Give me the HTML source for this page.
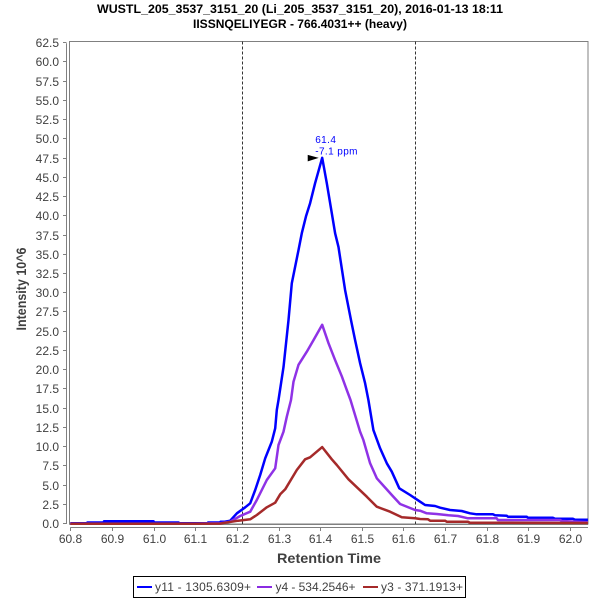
<!DOCTYPE html>
<html>
<head>
<meta charset="utf-8">
<title>Retention time chromatogram</title>
<style>
html,body{margin:0;padding:0;background:#fff;width:600px;height:600px;overflow:hidden}
svg{display:block}
text{font-family:"Liberation Sans",sans-serif}
</style>
</head>
<body>
<svg id="chart" xmlns="http://www.w3.org/2000/svg" width="600" height="600" viewBox="0 0 600 600">
  <rect x="0" y="0" width="600" height="600" fill="#fff"/>
  <text x="300" y="13" text-anchor="middle" font-size="12" font-weight="bold" fill="#000" textLength="406" lengthAdjust="spacingAndGlyphs">WUSTL_205_3537_3151_20 (Li_205_3537_3151_20), 2016-01-13 18:11</text>
  <text x="300" y="28" text-anchor="middle" font-size="12" font-weight="bold" fill="#000" textLength="214" lengthAdjust="spacingAndGlyphs">IISSNQELIYEGR - 766.4031++ (heavy)</text>
  <g id="plot"></g>
  <text x="329" y="563" text-anchor="middle" font-size="14" font-weight="bold" fill="#404040" textLength="104" lengthAdjust="spacingAndGlyphs">Retention Time</text>
  <text transform="translate(26,289) rotate(-90)" text-anchor="middle" font-size="14" font-weight="bold" fill="#404040" textLength="83" lengthAdjust="spacingAndGlyphs">Intensity 10^6</text>
  <g>
    <rect x="133.5" y="576.5" width="332" height="21" fill="#fff" stroke="#000" stroke-width="1"/>
    <line x1="137" y1="587" x2="152" y2="587" stroke="#0000ff" stroke-width="2"/>
    <text x="155" y="591" font-size="12" fill="#404040" textLength="96" lengthAdjust="spacing">y11 - 1305.6309+</text>
    <line x1="257" y1="587" x2="272" y2="587" stroke="#8a2be2" stroke-width="2"/>
    <text x="275.5" y="591" font-size="12" fill="#404040" textLength="80" lengthAdjust="spacing">y4 - 534.2546+</text>
    <line x1="363" y1="587" x2="378" y2="587" stroke="#a52a2a" stroke-width="2"/>
    <text x="381" y="591" font-size="12" fill="#404040" textLength="82" lengthAdjust="spacing">y3 - 371.1913+</text>
  </g>
</svg>
<script>
const xTickLabels = ["60.8","60.9","61.0","61.1","61.2","61.3","61.4","61.5","61.6","61.7","61.8","61.9","62.0"];
const yTickLabels = ["0.0","2.5","5.0","7.5","10.0","12.5","15.0","17.5","20.0","22.5","25.0","27.5","30.0","32.5","35.0","37.5","40.0","42.5","45.0","47.5","50.0","52.5","55.0","57.5","60.0","62.5"];
const boundaryTimes = [61.2136, 61.629];
const peakTime = [61.405];
const peakIntensity = [47.6];
const peakLabels = ["61.4", "-7.1 ppm"];

const y11Times = [60.8,60.84,60.841,60.88,60.881,61.0,61.001,61.06,61.061,61.13,61.131,61.16,61.161,61.171,61.184,61.2,61.22,61.232,61.244,61.256,61.268,61.276,61.284,61.292,61.296,61.3,61.312,61.324,61.332,61.348,61.356,61.366,61.376,61.388,61.405,61.416,61.428,61.436,61.444,61.46,61.474,61.484,61.496,61.508,61.516,61.528,61.544,61.56,61.572,61.59,61.616,61.64,61.652,61.676,61.688,61.712,61.74,61.76,61.776,61.815,61.82,61.848,61.851,61.896,61.899,61.959,61.964,62.007,62.012,62.043];
const y11Values = [0.1,0.1,0.2,0.2,0.35,0.35,0.2,0.2,0.1,0.1,0.2,0.2,0.3,0.3,0.43,1.39,2.17,2.69,4.42,6.37,8.54,9.62,10.7,12.44,14.82,16.12,20.4,26.5,31.3,35.6,37.8,40.0,41.7,44.3,47.6,44.3,40.4,37.8,36.0,30.4,26.5,23.9,20.9,18.3,16.12,12.2,9.84,7.89,6.8,4.64,3.77,2.9,2.47,2.34,2.12,1.82,1.69,1.39,1.26,1.26,1.13,1.08,0.95,0.95,0.82,0.82,0.69,0.69,0.56,0.56];

const y4Times = [60.8,61.1,61.16,61.184,61.208,61.232,61.248,61.272,61.292,61.3,61.312,61.32,61.33,61.336,61.348,61.368,61.384,61.405,61.42,61.436,61.452,61.464,61.473,61.496,61.504,61.52,61.536,61.572,61.592,61.628,61.64,61.656,61.68,61.708,61.731,61.755,61.824,61.827,61.976,61.98,62.043];
const y4Values = [0.05,0.05,0.1,0.3,1.04,1.6,3.12,5.72,7.24,10.27,12.0,13.95,16.12,18.5,20.7,22.4,23.9,25.9,23.5,21.3,19.2,17.4,16.12,12.0,10.9,7.89,5.94,3.77,2.6,1.82,1.73,1.39,1.3,1.13,1.04,0.74,0.74,0.52,0.52,0.39,0.22];

const y3Times = [60.8,61.1,61.16,61.171,61.203,61.232,61.248,61.272,61.292,61.304,61.316,61.344,61.364,61.376,61.405,61.428,61.44,61.468,61.512,61.536,61.568,61.596,61.628,61.64,61.659,61.664,61.7,61.704,61.755,61.76,62.043];
const y3Values = [0.02,0.02,0.05,0.15,0.43,0.61,1.17,2.17,2.77,3.86,4.51,7.02,8.41,8.67,10.0,8.41,7.67,5.81,3.55,2.25,1.6,0.87,0.74,0.65,0.61,0.43,0.43,0.3,0.3,0.17,0.13];

const NS = "http://www.w3.org/2000/svg";
const plot = document.getElementById("plot");
const PLOT_L = 69.5, PLOT_R = 588, PLOT_T = 41.5, PLOT_B = 524;
function xScale(t){ return 70.3 + (t - 60.8) * 416.4; }
function yScale(v){ return 524 - v * 7.693; }
function mk(tag, attrs){
  const el = document.createElementNS(NS, tag);
  for (const k in attrs) el.setAttribute(k, attrs[k]);
  plot.appendChild(el);
  return el;
}

const frame = mk("rect", {x:PLOT_L, y:PLOT_T, width:PLOT_R-PLOT_L, height:PLOT_B-PLOT_T, fill:"#fff", stroke:"#808080", "stroke-width":1});



const yAxisLine = mk("line", {x1:66.5, y1:yScale(62.5), x2:66.5, y2:PLOT_B, stroke:"#808080", "stroke-width":1});



const xAxisLine = mk("line", {x1:xScale(60.8), y1:527.5, x2:PLOT_R, y2:527.5, stroke:"#808080", "stroke-width":1});



const baseline = mk("line", {x1:PLOT_L, y1:PLOT_B+0.5, x2:PLOT_R, y2:PLOT_B+0.5, stroke:"#808080", "stroke-width":1});



yTickLabels.forEach(function(lbl){
  const py = Math.round(yScale(parseFloat(lbl))) - 0.5;
  const tick = mk("line", {x1:63, y1:py, x2:66.5, y2:py, stroke:"#808080", "stroke-width":1});
  
  
  const t = mk("text", {x:59, y:py+4.5, "text-anchor":"end", "font-size":12, fill:"#404040"});
  
  
  t.textContent = lbl;
});

xTickLabels.forEach(function(lbl){
  const px = Math.round(xScale(parseFloat(lbl))) + 0.5;
  const tick = mk("line", {x1:px, y1:527.5, x2:px, y2:531, stroke:"#808080", "stroke-width":1});
  
  
  const t = mk("text", {x:px, y:543, "text-anchor":"middle", "font-size":12, fill:"#404040"});
  
  
  t.textContent = lbl;
});

boundaryTimes.forEach(function(bt){
  const px = Math.floor(xScale(bt)) + 0.5;
  const b = mk("line", {x1:px, y1:PLOT_T, x2:px, y2:PLOT_B, stroke:"#333", "stroke-width":1, "stroke-dasharray":"3 2"});
  
  
});

function drawSeries(times, values, color, name){
  const pts = times.map(function(t, i){ return xScale(t).toFixed(1) + "," + yScale(values[i]).toFixed(1); }).join(" ");
  const line = mk("polyline", {points:pts, fill:"none", stroke:color, "stroke-width":2.5, "stroke-linejoin":"round"});
  
  
}
drawSeries(y11Times, y11Values, "#0000ff", "series-y11");
drawSeries(y4Times, y4Values, "#8f32e6", "series-y4");
drawSeries(y3Times, y3Values, "#a52a2a", "series-y3");

const peakX = xScale(peakTime[0]), peakY = yScale(peakIntensity[0]);
const arrow = mk("polygon", {points:(peakX-14.5)+","+(peakY-3)+" "+(peakX-3.5)+","+peakY+" "+(peakX-14.5)+","+(peakY+3.5), fill:"#000"});



const peakRt = mk("text", {x:peakX-7, y:peakY-15, "font-size":10, fill:"#0000ff", "letter-spacing":"0.4"});


peakRt.textContent = peakLabels[0];

const peakPpm = mk("text", {x:peakX-7, y:peakY-3.5, "font-size":10, fill:"#0000ff", "letter-spacing":"0.4"});


peakPpm.textContent = peakLabels[1];
</script>
</body>
</html>
